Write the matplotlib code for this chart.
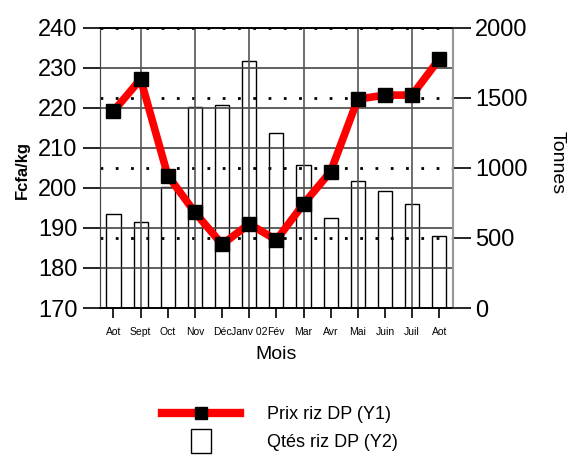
import numpy as np
import matplotlib.pyplot as plt
from matplotlib.lines import Line2D
from matplotlib.patches import Patch, Rectangle
from matplotlib.legend_handler import HandlerPatch

plt.rcParams['font.family'] = ['Liberation Sans', 'DejaVu Sans']

mois = ['Aot', 'Sept', 'Oct', 'Nov', 'Déc', 'Janv 02', 'Fév', 'Mar', 'Avr',
        'Mai', 'Juin', 'Juil', 'Aot']
prix = [219.2, 227.2, 203.1, 193.9, 185.9, 191.0, 187.0, 196.0, 204.1,
        222.2, 223.2, 223.2, 232.2]
qtes = [669, 612, 867, 1434, 1450, 1764, 1252, 1022, 640, 909, 838, 740, 512]

x = np.arange(len(mois))

fig = plt.figure(figsize=(5.71, 4.57), dpi=100)
ax = fig.add_axes([0.175, 0.326, 0.618, 0.613])
ax2 = ax.twinx()
ax.set_zorder(ax2.get_zorder() + 1)
ax.patch.set_visible(False)

# bars (Y2), unfilled
ax2.bar(x, qtes, width=0.52, fill=False, edgecolor='black', linewidth=1)
ax2.set_ylim(0, 2000)
ax2.set_yticks([0, 500, 1000, 1500, 2000])
for v in [500, 1000, 1500, 2000]:
    ax2.axhline(v, color='black', linestyle=(0, (1, 4.5)), linewidth=2, zorder=0)

# line (Y1)
ax.plot(x, prix, color='red', linewidth=5.5, marker='s', markersize=10,
        markerfacecolor='black', markeredgecolor='black', zorder=5)
ax.set_ylim(170, 240)
ax.set_yticks(np.arange(170, 241, 10))
ax.set_xlim(-0.5, len(mois) - 0.5)
ax.set_xticks(x)
ax.set_xticklabels(mois, fontsize=7.5)
for v in np.arange(180, 240, 10):
    ax.axhline(v, color='#444444', linewidth=1.2, zorder=1)
for i in range(1, len(mois), 2):
    ax.axvline(i, color='#555555', linewidth=1.2, zorder=1)

ax.tick_params(axis='y', labelsize=17, length=12, width=1.2, pad=4)
ax.tick_params(axis='x', length=7, width=1.2, pad=7)
ax2.tick_params(axis='y', labelsize=17, length=13, width=1.2, pad=3)

for a in (ax, ax2):
    a.spines['top'].set_linewidth(1.2)
    a.spines['left'].set_color('#444444')
    a.spines['right'].set_color('#999999')
    a.spines['right'].set_linewidth(1.5)
    a.spines['bottom'].set_linewidth(1.2)

ax.set_xlabel('Mois', fontsize=14, labelpad=6)
fig.text(0.04, 0.628, 'Fcfa/kg', rotation=90, fontsize=12, fontweight='bold',
         ha='center', va='center')
fig.text(0.975, 0.645, 'Tonnes', rotation=-90, fontsize=14,
         ha='center', va='center')


def small_box(legend, orig_handle, xdescent, ydescent, width, height, fontsize):
    w = height * 1.6
    return Rectangle((width / 2 - w / 2 - xdescent, -0.45 * height - ydescent),
                     w, height * 1.9)


handles = [Line2D([], [], color='red', linewidth=6, marker='s', markersize=8,
                  markerfacecolor='black', markeredgecolor='black'),
           Patch(facecolor='white', edgecolor='black', linewidth=1)]
labels = ['Prix riz DP (Y1)', 'Qtés riz DP (Y2)']
fig.legend(handles, labels, loc='center', bbox_to_anchor=(0.49, 0.062),
           frameon=False, fontsize=13, handlelength=4.3, handletextpad=1.5,
           labelspacing=0.6,
           handler_map={Patch: HandlerPatch(patch_func=small_box)})

fig.savefig('out.png', dpi=100)
